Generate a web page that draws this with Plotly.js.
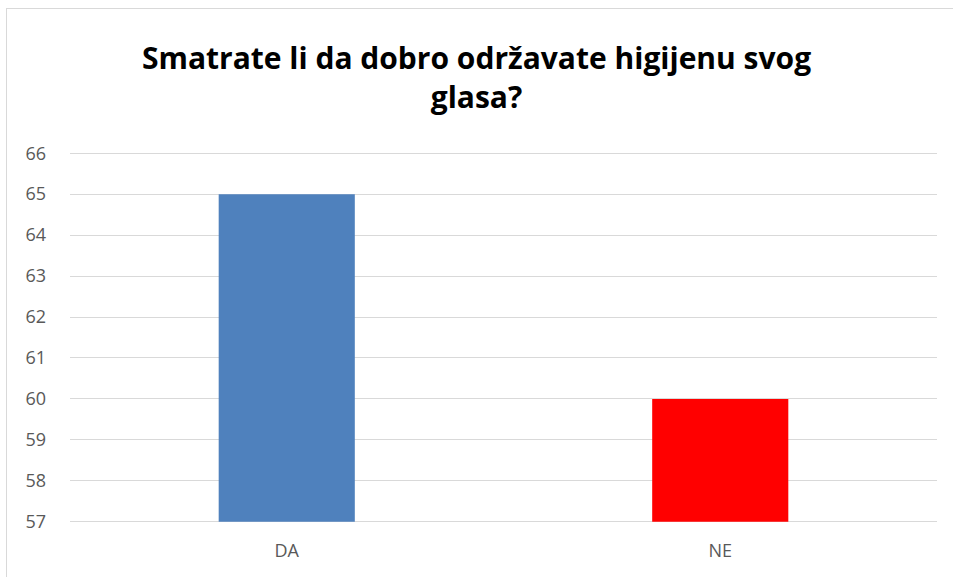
<!DOCTYPE html>
<html>
<head>
<meta charset="utf-8">
<script src="https://cdn.plot.ly/plotly-3.0.1.min.js"></script>
<style>
  html, body { margin: 0; padding: 0; background: #fff; overflow: hidden; }
  #chart { position: absolute; left: 0; top: 0; width: 953px; height: 577px; }
  #frame { position: absolute; left: 6px; top: 8px; width: 980px; height: 620px;
           border: 1px solid #d9d9d9; pointer-events: none; }
</style>
</head>
<body>
<div id="chart"></div>
<div id="frame"></div>
<script>
// answers to the survey question
const categories = ["DA", "NE"];
const counts = [65, 60];
const barColors = ["#4f81bd", "#ff0000"];
const yTicks = [57, 58, 59, 60, 61, 62, 63, 64, 65, 66];
const axisFloor = 57;

// bars start at the axis floor, so draw the height above it
const trace = {
  x: categories,
  y: counts.map((v) => v - axisFloor),
  base: axisFloor,
  type: "bar",
  marker: { color: barColors },
  hoverinfo: "x+y",
};

Plotly.newPlot("chart", [trace], {
  width: 953,
  height: 577,
  margin: { l: 70, r: 16, t: 152, b: 54 },
  paper_bgcolor: "#fff",
  plot_bgcolor: "#fff",
  title: {
    text: "Smatrate li da dobro održavate higijenu svog<br>glasa?",
    font: { family: "Open Sans", size: 30, color: "#000", weight: "bold" },
    x: 0.5,
    xanchor: "center",
    y: 0.88,
    yanchor: "top",
  },
  bargap: 0.686,
  showlegend: false,
  xaxis: {
    showgrid: false,
    zeroline: false,
    showline: false,
    ticks: "",
    ticklabelstandoff: 15,
    tickfont: { family: "Open Sans", size: 18, color: "#595959" },
  },
  yaxis: {
    // a little headroom so the 57 and 66 grid lines are kept
    range: [56.97, 66.03],
    tickvals: yTicks,
    ticktext: yTicks.map(String),
    showgrid: true,
    gridcolor: "#d9d9d9",
    gridwidth: 1,
    zeroline: false,
    showline: false,
    ticks: "",
    ticklabelstandoff: 23,
    tickfont: { family: "Open Sans", size: 18, color: "#595959" },
  },
}, { displayModeBar: false, staticPlot: true });
</script>
</body>
</html>
